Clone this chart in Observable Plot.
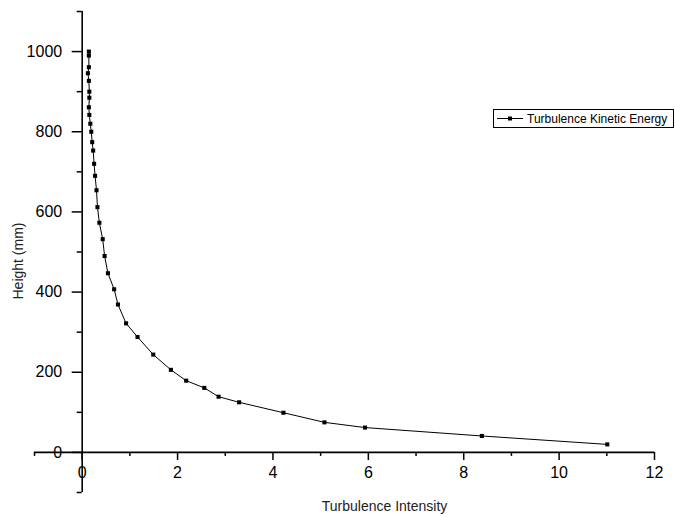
<!DOCTYPE html>
<html><head><meta charset="utf-8">
<script src="https://cdn.jsdelivr.net/npm/d3@7"></script>
<script src="https://cdn.jsdelivr.net/npm/@observablehq/plot@0.6"></script>
<style>body{margin:0;background:#fff;} #chart{width:675px;height:517px;}</style>
</head><body><div id="chart"></div>
<script>
// Series values
const intensity = [0.14, 0.14, 0.14, 0.12, 0.14, 0.15, 0.15, 0.14, 0.15, 0.17, 0.19, 0.21, 0.23, 0.25, 0.27, 0.30, 0.32, 0.36, 0.43, 0.47, 0.54, 0.67, 0.75, 0.92, 1.16, 1.49, 1.86, 2.18, 2.56, 2.86, 3.29, 4.22, 5.08, 5.93, 8.38, 11.01];
const heightMm = [1000, 990, 961, 946, 927, 900, 885, 861, 842, 820, 800, 774, 753, 720, 690, 654, 612, 573, 532, 490, 447, 407, 369, 322, 288, 244, 206, 179, 161, 139, 125, 99, 75, 62, 41, 20];

const xDomain = [-1, 12];
const yDomain = [-100, 1100];
const xMajorTicks = [0, 2, 4, 6, 8, 10, 12];
const xMinorTicks = [-1, 1, 3, 5, 7, 9, 11];
const yMajorTicks = [0, 200, 400, 600, 800, 1000];
const yMinorTicks = [-100, 100, 300, 500, 700, 900, 1100];
const seriesName = "Turbulence Kinetic Energy";
const xTitle = "Turbulence Intensity";
const yTitle = "Height (mm)";

const W = 675, H = 517, mL = 34, mR = 21, mT = 11, mB = 25;
const innerW = W - mL - mR, innerH = H - mT - mB;
const axisDy = -((0 - yDomain[0]) / (yDomain[1] - yDomain[0])) * innerH;
const axisDx = ((0 - xDomain[0]) / (xDomain[1] - xDomain[0])) * innerW;
const font = "Liberation Sans, Arial, sans-serif";
const data = intensity.map((x, i) => ({x, y: heightMm[i]}));

const plot = Plot.plot({
  width: W, height: H,
  marginLeft: mL, marginRight: mR, marginTop: mT, marginBottom: mB,
  style: {fontFamily: font, background: "white", color: "black", overflow: "visible"},
  x: {domain: xDomain, axis: null},
  y: {domain: yDomain, axis: null},
  marks: [
    Plot.ruleY([0], {x1: xDomain[0], x2: xDomain[1], stroke: "black", strokeWidth: 1.6}),
    Plot.ruleX([0], {y1: yDomain[0], y2: yDomain[1], stroke: "black", strokeWidth: 1.6}),
    Plot.axisX(xMinorTicks, {anchor: "bottom", dy: axisDy, tickSize: 4, tickFormat: () => "", label: null, strokeWidth: 1.5}),
    Plot.axisX(xMajorTicks, {anchor: "bottom", dy: axisDy, tickSize: 8, tickPadding: 6, fontSize: 16, tickFormat: d => String(d), label: null, strokeWidth: 1.5}),
    Plot.axisY(yMinorTicks, {anchor: "left", dx: axisDx, tickSize: 5, tickFormat: () => "", label: null, strokeWidth: 1.5}),
    Plot.axisY(yMajorTicks, {anchor: "left", dx: axisDx, tickSize: 10, tickPadding: 10, fontSize: 16, tickFormat: d => String(d), label: null, strokeWidth: 1.5}),
    Plot.line(data, {x: "x", y: "y", stroke: "black", strokeWidth: 1}),
    Plot.dot(data, {x: "x", y: "y", symbol: "square", r: 2.3, fill: "black", stroke: "none"}),
    Plot.text([xTitle], {frameAnchor: "bottom", text: d => d, dx: 40, dy: 18, fontSize: 14, fill: "#222"}),
    Plot.text([yTitle], {frameAnchor: "left", textAnchor: "middle", text: d => d, rotate: -90, dx: -16, dy: 9, fontSize: 14, fill: "#222"})
  ]
});

// Legend (drawn into the same SVG)
const svg = d3.select(plot);
const lg = svg.append("g").attr("font-family", font).attr("text-anchor", "start");
lg.append("rect").attr("x", 493.5).attr("y", 109.5).attr("width", 180).attr("height", 18)
  .attr("fill", "white").attr("stroke", "black").attr("stroke-width", 1);
lg.append("line").attr("x1", 497).attr("x2", 523).attr("y1", 118.5).attr("y2", 118.5)
  .attr("stroke", "black").attr("stroke-width", 1);
lg.append("rect").attr("x", 508).attr("y", 116.5).attr("width", 4).attr("height", 4).attr("fill", "black");
lg.append("text").attr("x", 527).attr("y", 118.5).attr("dy", "0.35em").attr("font-size", 12)
  .attr("text-anchor", "start").attr("fill", "black").text(seriesName);

document.getElementById("chart").appendChild(plot);
</script>
</body></html>
